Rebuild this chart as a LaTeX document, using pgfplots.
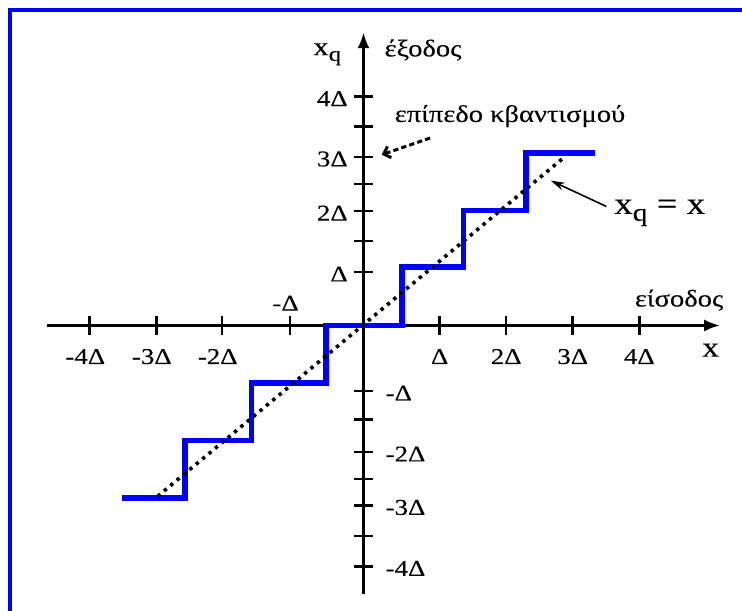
\documentclass[border=0pt]{standalone}
\usepackage{fontspec}
\setmainfont[FakeStretch=1.19, FakeBold=0.12]{Liberation Serif}
\usepackage{graphicx}
\usepackage{pgfplots}
\pgfplotsset{compat=1.18}
\usetikzlibrary{arrows.meta}
\definecolor{qblue}{RGB}{0,0,255}
\newcommand{\qsub}{\raisebox{-0.22em}{\scalebox{0.8}{q}}}
\begin{document}
\begin{tikzpicture}
\begin{axis}[
  at={(23.28pt,7.99pt)}, anchor=south west,
  x=34.3pt, y=28.75pt,
  xmin=-4.62, xmax=5.2, ymin=-4.67, ymax=5.1,
  axis lines=middle,
  axis line style={line width=1.5pt, -{Latex[length=8pt,width=6pt]}},
  tick align=center, major tick length=9.6pt,
  tick style={line width=1.3pt, black},
  xtick={-3.99,-3.02,-2.06,1.11,2.08,3.05,4.02},
  xticklabels={\llap{-}4Δ,\llap{-}3Δ,\llap{-}2Δ,Δ,2Δ,3Δ,4Δ},
  ytick={0.93,1.47,1.99,2.46,2.93,3.46,3.98},
  yticklabels={Δ,{},2Δ,{},3Δ,{},4Δ},
  tick label style={font=\fontsize{11.3}{13}\selectfont, inner sep=0pt},
  xticklabel style={anchor=base, yshift=-14.45pt},
  yticklabel style={anchor=east, xshift=-2.9pt, yshift=-1pt},
  extra x ticks={-1.07},
  extra x tick labels={\llap{-}Δ},
  extra x tick style={xticklabel style={yshift=26.65pt}},
  extra y ticks={-1.14,-1.63,-2.20,-2.67,-3.13,-3.66,-4.19},
  extra y tick labels={-Δ,{},-2Δ,{},-3Δ,{},-4Δ},
  extra y tick style={yticklabel style={anchor=west, xshift=18.6pt}},
  clip=false,
]
\addplot[qblue, line width=2.8pt, line join=miter, line cap=butt] coordinates {
  (-3.52,-3) (-2.60,-3) (-2.60,-2) (-1.63,-2) (-1.63,-1) (-0.55,-1) (-0.55,0)
  (0.56,0) (0.56,1.02) (1.46,1.02) (1.46,2) (2.37,2) (2.37,3) (3.38,3)};
\addplot[black, line width=1.8pt, dash pattern=on 1.7pt off 2.45pt] coordinates {
  (-3,-2.97) (2.93,2.93)};
\node[anchor=base east, inner sep=0pt, font=\fontsize{13}{15}\selectfont] at (axis cs:-0.32,4.70) {x\qsub};
\node[anchor=base west, inner sep=0pt, font=\fontsize{12}{14}\selectfont] at (axis cs:0.30,4.68) {έξοδος};
\node[anchor=base west, inner sep=0pt, font=\fontsize{12}{14}\selectfont] at (axis cs:0.45,3.54) {επίπεδο κβαντισμού};
\draw[line width=1.5pt, dash pattern=on 2.6pt off 1.6pt, -{Straight Barb[length=3pt,width=6pt]}] (axis cs:0.97,3.26) -- (axis cs:0.266,2.97);
\node[anchor=base west, inner sep=0pt, font=\fontsize{15.5}{18}\selectfont] at (axis cs:3.65,1.94) {x\qsub\ = x};
\draw[line width=0.8pt, -{Stealth[length=7pt,width=4pt]}] (axis cs:3.54,2.07) -- (axis cs:2.73,2.52);
\node[anchor=base west, inner sep=0pt, font=\fontsize{12}{14}\selectfont] at (axis cs:3.95,0.33) {είσοδος};
\node[anchor=base, inner sep=0pt, font=\fontsize{14}{16}\selectfont] at (axis cs:5.06,-0.54) {x};
\end{axis}
\draw[qblue, line width=2pt] (5pt,-20pt) -- (5pt,300pt) -- (400pt,300pt);
\pgfresetboundingbox
\useasboundingbox (0pt,0pt) rectangle (371pt,305pt);
\end{tikzpicture}
\end{document}
